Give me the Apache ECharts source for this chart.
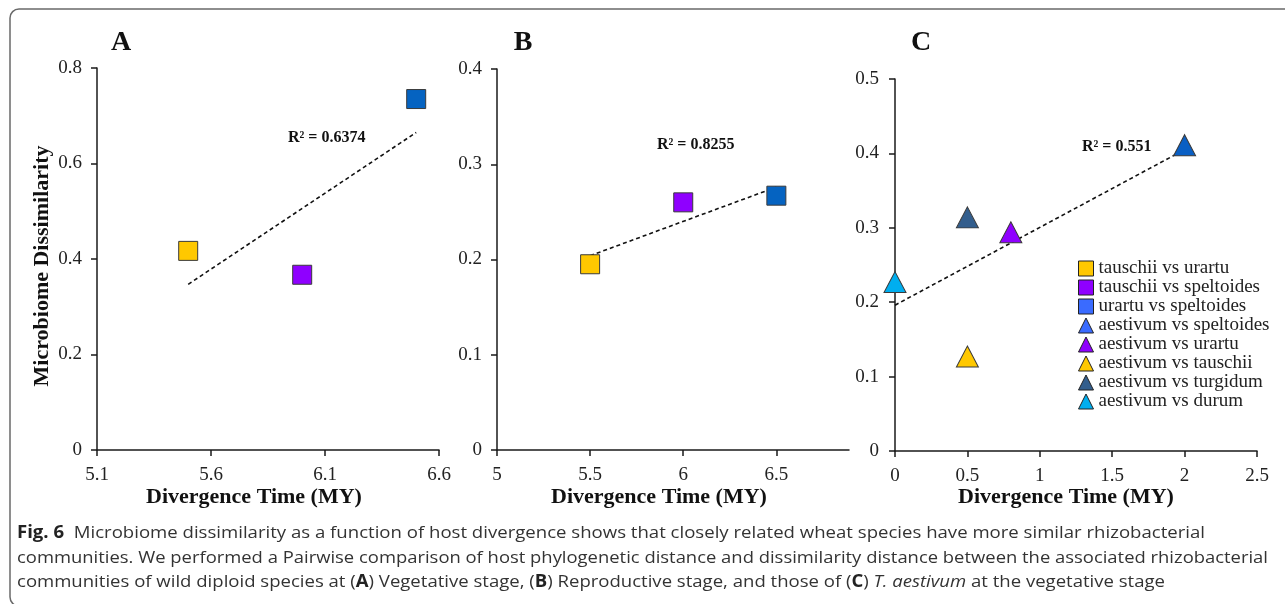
<!DOCTYPE html>
<html><head><meta charset="utf-8">
<script src="https://cdn.jsdelivr.net/npm/echarts@6/dist/echarts.min.js"></script>
<style>html,body{margin:0;padding:0;background:#fff}#c{width:1285px;height:604px}</style>
</head><body><div id="c"></div>
<script>
// ---------------- data ----------------
const pairsAB = ['tauschii vs urartu', 'tauschii vs speltoides', 'urartu vs speltoides'];
// Panel A (vegetative stage, diploids)
const timeA = [5.5, 6.0, 6.5];
const dissimA = [0.417, 0.367, 0.735];
const trendA = [[5.5, 0.347], [6.5, 0.665]];
const r2A = 'R² = 0.6374';
const xTicksA = [5.1, 5.6, 6.1, 6.6];
// Panel B (reproductive stage, diploids)
const timeB = [5.5, 6.0, 6.5];
const dissimB = [0.195, 0.260, 0.267];
const trendB = [[5.5, 0.204], [6.5, 0.276]];
const r2B = 'R² = 0.8255';
const xTicksB = [5, 5.5, 6, 6.5];
// Panel C (T. aestivum, vegetative stage)
const pairsC = ['aestivum vs speltoides', 'aestivum vs urartu', 'aestivum vs tauschii', 'aestivum vs turgidum', 'aestivum vs durum'];
const timeC = [2.0, 0.8, 0.5, 0.5, 0.0];
const dissimC = [0.411, 0.294, 0.127, 0.314, 0.227];
const trendC = [[0, 0.196], [2, 0.405]];
const r2C = 'R² = 0.551';

const yTitle = 'Microbiome Dissimilarity';
const xTitle = 'Divergence Time (MY)';
const captionLines = [
  '{b|Fig. 6}  Microbiome dissimilarity as a function of host divergence shows that closely related wheat species have more similar rhizobacterial',
  'communities. We performed a Pairwise comparison of host phylogenetic distance and dissimilarity distance between the associated rhizobacterial',
  'communities of wild diploid species at ({b|A}) Vegetative stage, ({b|B}) Reproductive stage, and those of ({b|C}) {i|T. aestivum} at the vegetative stage'
];

// ---------------- styles ----------------
const colAB = ['#FFC800', '#8F00FF', '#0563C1'];
const colC = ['#0A5FC4', '#8F00FF', '#FFC800', '#335E8D', '#00AEEF'];
const legendColAB = ['#FFC800', '#8F00FF', '#3A6BFF'];
const legendColC = ['#3A6BFF', '#8F00FF', '#FFC800', '#335E8D', '#00AEEF'];
const SERIF = '"Liberation Serif", "Times New Roman", serif';
const SANS = '"Open Sans", "Noto Sans", sans-serif';
const AX = '#1a1a1a';

const chart = echarts.init(document.getElementById('c'), null, {renderer: 'canvas'});

function axisCommon(extra) {
  return Object.assign({
    type: 'value',
    splitLine: {show: false},
    axisLine: {show: true, onZero: false, lineStyle: {color: AX, width: 1.5}},
    axisTick: {show: true, inside: false, length: 6, lineStyle: {color: AX, width: 1.5}},
    axisLabel: {color: '#222', fontFamily: SERIF, fontSize: 19}
  }, extra);
}

const grids = [
  {left: 97, top: 68, width: 342, height: 382},
  {left: 497, top: 69, width: 352, height: 381},
  {left: 895, top: 79, width: 362, height: 372}
];

const xLab = {color: '#222', fontFamily: SERIF, fontSize: 19, margin: 16};
const xAxes = [
  axisCommon({gridIndex: 0, min: 5.1, max: 6.6,
    axisTick: {show: true, length: 6, customValues: xTicksA, lineStyle: {color: AX, width: 1.5}},
    axisLabel: Object.assign({customValues: xTicksA}, xLab)}),
  axisCommon({gridIndex: 1, min: 5, max: 6.89,
    axisTick: {show: true, length: 6, customValues: xTicksB, lineStyle: {color: AX, width: 1.5}},
    axisLabel: Object.assign({customValues: xTicksB}, xLab)}),
  axisCommon({gridIndex: 2, min: 0, max: 2.5, interval: 0.5, axisLabel: xLab})
];
const yAxes = [
  axisCommon({gridIndex: 0, min: 0, max: 0.8, interval: 0.2,
    axisLabel: {color: '#222', fontFamily: SERIF, fontSize: 19, margin: 15}}),
  axisCommon({gridIndex: 1, min: 0, max: 0.4, interval: 0.1,
    axisLabel: {color: '#222', fontFamily: SERIF, fontSize: 19, margin: 15}}),
  axisCommon({gridIndex: 2, min: 0, max: 0.5, interval: 0.1,
    axisLabel: {color: '#222', fontFamily: SERIF, fontSize: 19, margin: 16}})
];

const series = [];
function trend(idx, data) {
  series.push({type: 'line', xAxisIndex: idx, yAxisIndex: idx, data: data, symbol: 'none',
    silent: true, z: 1, lineStyle: {color: '#111', width: 1.6, type: [4, 3]}});
}
trend(0, trendA); trend(1, trendB); trend(2, trendC);
pairsAB.forEach((n, i) => {
  series.push({type: 'scatter', name: n, xAxisIndex: 0, yAxisIndex: 0, symbol: 'rect', symbolSize: 19, z: 3,
    data: [[timeA[i], dissimA[i]]], itemStyle: {color: colAB[i], borderColor: '#3a3a3a', borderWidth: 1, opacity: 1}});
  series.push({type: 'scatter', name: n, xAxisIndex: 1, yAxisIndex: 1, symbol: 'rect', symbolSize: 19, z: 3,
    data: [[timeB[i], dissimB[i]]], itemStyle: {color: colAB[i], borderColor: '#3a3a3a', borderWidth: 1, opacity: 1}});
});
pairsC.forEach((n, i) => {
  series.push({type: 'scatter', name: n, xAxisIndex: 2, yAxisIndex: 2, symbol: 'triangle', symbolSize: [22, 21], z: 3,
    data: [[timeC[i], dissimC[i]]], itemStyle: {color: colC[i], borderColor: '#3a3a3a', borderWidth: 1, opacity: 1}});
});

const legendData = pairsAB.map((n, i) => ({name: n, icon: 'rect',
  itemStyle: {color: legendColAB[i], borderColor: '#222', borderWidth: 1}}))
  .concat(pairsC.map((n, i) => ({name: n, icon: 'triangle',
  itemStyle: {color: legendColC[i], borderColor: '#222', borderWidth: 1}})));

// text measurement for caption fitting
const mctx = document.createElement('canvas').getContext('2d');
function measureRich(line, base, rich) {
  let w = 0; const re = /\{(\w+)\|([^}]*)\}|([^{]+)/g; let m;
  while ((m = re.exec(line))) {
    if (m[1]) { mctx.font = rich[m[1]].font; w += mctx.measureText(m[2]).width; }
    else { mctx.font = base; w += mctx.measureText(m[3]).width; }
  }
  return w;
}
const capBase = '17px ' + SANS;
const capRich = {b: {font: 'bold 17px ' + SANS}, i: {font: 'italic 17px ' + SANS}};
const capTargets = [1188, 1251, 1148];
const capY = [533, 558, 582];
const graphics = [
  {type: 'rect', shape: {x: 10, y: 9, width: 1300, height: 597, r: 9}, silent: true,
    style: {fill: 'none', stroke: '#6a6a6a', lineWidth: 1.5}},
  {type: 'text', x: 121, y: 43, style: {text: 'A', font: 'bold 28px ' + SERIF, fill: '#111', align: 'center', verticalAlign: 'middle'}},
  {type: 'text', x: 523, y: 43, style: {text: 'B', font: 'bold 28px ' + SERIF, fill: '#111', align: 'center', verticalAlign: 'middle'}},
  {type: 'text', x: 921, y: 43, style: {text: 'C', font: 'bold 28px ' + SERIF, fill: '#111', align: 'center', verticalAlign: 'middle'}},
  {type: 'text', x: 42, y: 266, rotation: Math.PI / 2,
    style: {text: yTitle, font: 'bold 22px ' + SERIF, fill: '#111', align: 'center', verticalAlign: 'middle'}},
  {type: 'text', x: 288, y: 138, style: {text: r2A, font: 'bold 16px ' + SERIF, fill: '#111', align: 'left', verticalAlign: 'middle'}},
  {type: 'text', x: 657, y: 145, style: {text: r2B, font: 'bold 16px ' + SERIF, fill: '#111', align: 'left', verticalAlign: 'middle'}},
  {type: 'text', x: 1082, y: 147, style: {text: r2C, font: 'bold 16px ' + SERIF, fill: '#111', align: 'left', verticalAlign: 'middle'}}
];
[254, 659, 1066].forEach(cx => {
  graphics.push({type: 'text', x: cx, y: 497,
    style: {text: xTitle, font: 'bold 22px ' + SERIF, fill: '#111', align: 'center', verticalAlign: 'middle'}});
});
captionLines.forEach((line, i) => {
  const w = measureRich(line, capBase, capRich);
  graphics.push({type: 'text', x: 17, y: capY[i], scaleX: capTargets[i] / w, originX: 0,
    style: {text: line, font: capBase, fill: '#333', align: 'left', verticalAlign: 'middle',
      rich: {b: {font: capRich.b.font, fill: '#222'}, i: {font: capRich.i.font, fill: '#333'}}}});
});

chart.setOption({
  backgroundColor: '#fff',
  animation: false,
  grid: grids,
  xAxis: xAxes,
  yAxis: yAxes,
  series: series,
  legend: {
    data: legendData, orient: 'vertical', left: 1073, top: 254,
    itemWidth: 15, itemHeight: 15, itemGap: 0, itemTextGap: 18, selectedMode: false,
    textStyle: {fontFamily: SERIF, fontSize: 19, lineHeight: 16, color: '#222'}
  },
  graphic: graphics
});
</script></body></html>
